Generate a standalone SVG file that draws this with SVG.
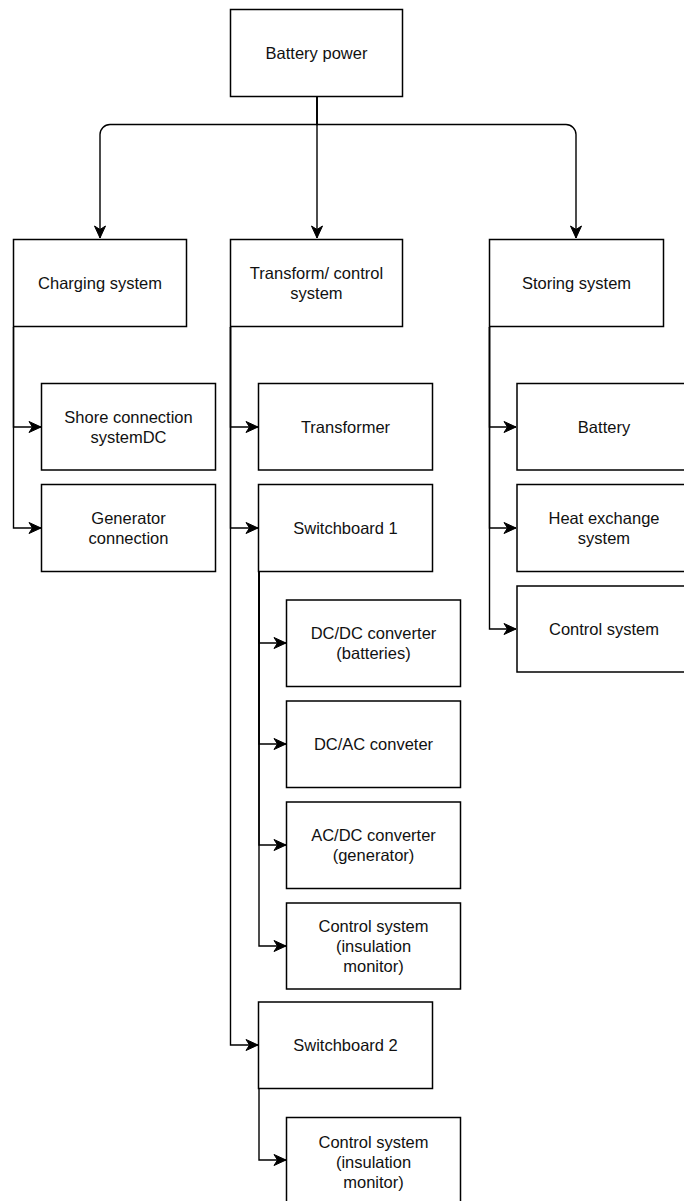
<svg xmlns="http://www.w3.org/2000/svg" width="684" height="1201" viewBox="0 0 684 1201">
  <style>
    .box { fill: #ffffff; stroke: #000000; stroke-width: 1.5; }
    .lbl { font-family: "Liberation Sans", Arial, Helvetica, sans-serif; font-size: 16.5px; fill: #111111; text-anchor: middle; }
    .edge { fill: none; stroke: #000000; stroke-width: 1.4; marker-end: url(#arrow); }
  </style>
  <defs>
    <marker id="arrow" markerUnits="userSpaceOnUse" markerWidth="14" markerHeight="14" viewBox="-13 -7 14 14" refX="0" refY="0" orient="auto">
      <path d="M0,0 L-12,-5.5 L-8.5,0 L-12,5.5 Z" fill="#000000" stroke="#000000" stroke-width="1"/>
    </marker>
  </defs>
  <rect width="684" height="1201" fill="#ffffff"/>

  <!-- connectors -->
  <g id="connectors">
    <!-- top level split -->
    <path class="edge" d="M317,97 V238"/>
    <path class="edge" d="M317,97 V124.5 H110 A10,10 0 0 0 100,134.5 V238"/>
    <path class="edge" d="M317,97 V124.5 H566 A10,10 0 0 1 576,134.5 V238"/>
    <!-- charging system branch -->
    <path class="edge" d="M13.5,327 V427 H41"/>
    <path class="edge" d="M13.5,327 V528 H41"/>
    <!-- transform/control branch -->
    <path class="edge" d="M230.5,327 V427 H258"/>
    <path class="edge" d="M230.5,327 V528 H258"/>
    <path class="edge" d="M230.5,327 V1045 H258"/>
    <!-- switchboard 1 branch -->
    <path class="edge" d="M259,571 V643 H286"/>
    <path class="edge" d="M259,571 V744 H286"/>
    <path class="edge" d="M259,571 V845 H286"/>
    <path class="edge" d="M259,571 V946 H286"/>
    <!-- switchboard 2 branch -->
    <path class="edge" d="M259,1088 V1160 H286"/>
    <!-- storing system branch -->
    <path class="edge" d="M489.5,327 V427 H516"/>
    <path class="edge" d="M489.5,327 V528 H516"/>
    <path class="edge" d="M489.5,327 V629 H516"/>
  </g>

  <!-- nodes -->
  <g id="battery-power">
    <rect class="box" x="230.5" y="9.5" width="172" height="87"/>
    <text class="lbl" x="316.5" y="59">Battery power</text>
  </g>

  <g id="charging-system">
    <rect class="box" x="13.5" y="239.5" width="173" height="87"/>
    <text class="lbl" x="100" y="289">Charging system</text>
  </g>
  <g id="transform-control">
    <rect class="box" x="230.5" y="239.5" width="172" height="87"/>
    <text class="lbl" x="316.5" y="279">Transform/ control</text>
    <text class="lbl" x="316.5" y="299">system</text>
  </g>
  <g id="storing-system">
    <rect class="box" x="489.5" y="239.5" width="174" height="87"/>
    <text class="lbl" x="576.5" y="289">Storing system</text>
  </g>

  <g id="shore-connection">
    <rect class="box" x="41.5" y="383.5" width="174" height="86.5"/>
    <text class="lbl" x="128.5" y="423">Shore connection</text>
    <text class="lbl" x="128.5" y="443">systemDC</text>
  </g>
  <g id="generator-connection">
    <rect class="box" x="41.5" y="484.5" width="174" height="87"/>
    <text class="lbl" x="128.5" y="524">Generator</text>
    <text class="lbl" x="128.5" y="544">connection</text>
  </g>

  <g id="transformer">
    <rect class="box" x="258.5" y="383.5" width="174" height="86.5"/>
    <text class="lbl" x="345.5" y="433">Transformer</text>
  </g>
  <g id="switchboard-1">
    <rect class="box" x="258.5" y="484.5" width="174" height="87"/>
    <text class="lbl" x="345.5" y="534">Switchboard 1</text>
  </g>

  <g id="dcdc-converter">
    <rect class="box" x="286.5" y="600" width="174" height="86.5"/>
    <text class="lbl" x="373.5" y="639">DC/DC converter</text>
    <text class="lbl" x="373.5" y="659">(batteries)</text>
  </g>
  <g id="dcac-converter">
    <rect class="box" x="286.5" y="701" width="174" height="86.5"/>
    <text class="lbl" x="373.5" y="750">DC/AC conveter</text>
  </g>
  <g id="acdc-converter">
    <rect class="box" x="286.5" y="802" width="174" height="86.5"/>
    <text class="lbl" x="373.5" y="841">AC/DC converter</text>
    <text class="lbl" x="373.5" y="861">(generator)</text>
  </g>
  <g id="control-system-sb1">
    <rect class="box" x="286.5" y="903" width="174" height="86"/>
    <text class="lbl" x="373.5" y="932">Control system</text>
    <text class="lbl" x="373.5" y="952">(insulation</text>
    <text class="lbl" x="373.5" y="972">monitor)</text>
  </g>

  <g id="switchboard-2">
    <rect class="box" x="258.5" y="1002" width="174" height="86.5"/>
    <text class="lbl" x="345.5" y="1051">Switchboard 2</text>
  </g>
  <g id="control-system-sb2">
    <rect class="box" x="286.5" y="1117.5" width="174" height="87"/>
    <text class="lbl" x="373.5" y="1148">Control system</text>
    <text class="lbl" x="373.5" y="1168">(insulation</text>
    <text class="lbl" x="373.5" y="1188">monitor)</text>
  </g>

  <g id="battery">
    <rect class="box" x="517" y="383.5" width="174" height="86.5"/>
    <text class="lbl" x="604" y="433">Battery</text>
  </g>
  <g id="heat-exchange">
    <rect class="box" x="517" y="484.5" width="174" height="87"/>
    <text class="lbl" x="604" y="524">Heat exchange</text>
    <text class="lbl" x="604" y="544">system</text>
  </g>
  <g id="control-system-storing">
    <rect class="box" x="517" y="586" width="174" height="86"/>
    <text class="lbl" x="604" y="635">Control system</text>
  </g>
</svg>
